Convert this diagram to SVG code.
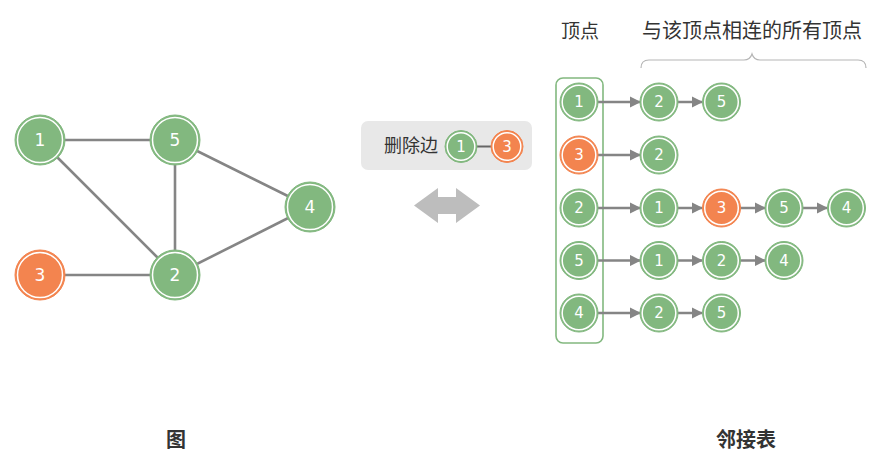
<svg xmlns="http://www.w3.org/2000/svg" width="891" height="462" viewBox="0 0 891 462">
<defs>
<style>
.bg{fill:#ffffff}
.g{fill:#82b87f;stroke:#82b87f;stroke-width:1}
.o{fill:#f3844f;stroke:#f3844f;stroke-width:1}
.ring{fill:none;stroke:#ffffff;stroke-width:1.5}
.lbl{font-family:"DejaVu Sans","Noto Sans",sans-serif;fill:#ffffff;text-anchor:middle;dominant-baseline:central}
.big{font-size:17px}
.sm{font-size:15px}
.edge{stroke:#858585;stroke-width:2.6;fill:none}
.arr{stroke:#858585;stroke-width:2.5;fill:none;marker-end:url(#ah)}
.cn{font-family:"Noto Sans CJK SC","Noto Sans",sans-serif;fill:#333333;text-anchor:middle}
</style>
<marker id="ah" viewBox="0 0 10 10" refX="9" refY="5" markerWidth="4.6" markerHeight="4.6" orient="auto" markerUnits="strokeWidth">
<path d="M0,0 L10,5 L0,10 Z" fill="#858585"/>
</marker>
</defs>
<rect class="bg" x="0" y="0" width="891" height="462"/>

<g id="graph-edges">
<line class="edge" x1="40" y1="140" x2="175" y2="140"/>
<line class="edge" x1="40" y1="140" x2="175" y2="275"/>
<line class="edge" x1="175" y1="140" x2="175" y2="275"/>
<line class="edge" x1="175" y1="140" x2="310" y2="207"/>
<line class="edge" x1="310" y1="207" x2="175" y2="275"/>
<line class="edge" x1="40" y1="275" x2="175" y2="275"/>
</g>

<g id="g1"><circle class="g" cx="40" cy="140" r="25"/><circle class="ring" cx="40" cy="140" r="22.5"/><text class="lbl big" x="40" y="140">1</text></g>
<g id="g5"><circle class="g" cx="175" cy="140" r="25"/><circle class="ring" cx="175" cy="140" r="22.5"/><text class="lbl big" x="175" y="140">5</text></g>
<g id="g4"><circle class="g" cx="310" cy="207" r="25"/><circle class="ring" cx="310" cy="207" r="22.5"/><text class="lbl big" x="310" y="207">4</text></g>
<g id="g3"><circle class="o" cx="40" cy="275" r="25"/><circle class="ring" cx="40" cy="275" r="22.5"/><text class="lbl big" x="40" y="275">3</text></g>
<g id="g2"><circle class="g" cx="175" cy="275" r="25"/><circle class="ring" cx="175" cy="275" r="22.5"/><text class="lbl big" x="175" y="275">2</text></g>

<g id="op">
<rect x="361" y="121" width="171" height="49" rx="7" fill="#e8e8e8"/>
<text class="cn" x="411" y="152" font-size="18">删除边</text>
<line x1="461" y1="146.5" x2="507" y2="146.5" stroke="#666666" stroke-width="2"/>
<circle class="g" cx="461" cy="146.5" r="16"/><circle class="ring" cx="461" cy="146.5" r="13.8"/><text class="lbl sm" x="461" y="146.5">1</text>
<circle class="o" cx="507" cy="146.5" r="16"/><circle class="ring" cx="507" cy="146.5" r="13.8"/><text class="lbl sm" x="507" y="146.5">3</text>
</g>

<g id="swap">
<path d="M414,205.5 L438,188 L438,197 L456,197 L456,188 L480,205.5 L456,223 L456,214 L438,214 L438,223 Z" fill="#bdbdbd"/>
</g>

<g id="headers">
<text class="cn" x="580" y="38" font-size="19">顶点</text>
<text class="cn" x="752" y="38" font-size="20">与该顶点相连的所有顶点</text>
<path d="M641,68 Q641,60 649,60 L744,60 Q750,60 752,54 Q754,60 760,60 L858,60 Q866,60 866,68" fill="none" stroke="#b5b5b5" stroke-width="1.2"/>
</g>

<g id="vbox"><rect x="556" y="78" width="47" height="265" rx="7" fill="none" stroke="#82b87f" stroke-width="1.6"/></g>

<g id="connectors">
<line class="arr" x1="598" y1="102" x2="640" y2="102"/>
<line class="arr" x1="678" y1="102" x2="702" y2="102"/>
<line class="arr" x1="598" y1="155" x2="640" y2="155"/>
<line class="arr" x1="598" y1="208" x2="640" y2="208"/>
<line class="arr" x1="678" y1="208" x2="702" y2="208"/>
<line class="arr" x1="740" y1="208" x2="765" y2="208"/>
<line class="arr" x1="803" y1="208" x2="827" y2="208"/>
<line class="arr" x1="598" y1="260.5" x2="640" y2="260.5"/>
<line class="arr" x1="678" y1="260.5" x2="702" y2="260.5"/>
<line class="arr" x1="740" y1="260.5" x2="765" y2="260.5"/>
<line class="arr" x1="598" y1="313" x2="640" y2="313"/>
<line class="arr" x1="678" y1="313" x2="702" y2="313"/>
</g>

<g id="v1"><circle class="g" cx="579" cy="102" r="19"/><circle class="ring" cx="579" cy="102" r="16.8"/><text class="lbl sm" x="579" y="102">1</text></g>
<g id="v3"><circle class="o" cx="579" cy="155" r="19"/><circle class="ring" cx="579" cy="155" r="16.8"/><text class="lbl sm" x="579" y="155">3</text></g>
<g id="v2"><circle class="g" cx="579" cy="208" r="19"/><circle class="ring" cx="579" cy="208" r="16.8"/><text class="lbl sm" x="579" y="208">2</text></g>
<g id="v5"><circle class="g" cx="579" cy="260.5" r="19"/><circle class="ring" cx="579" cy="260.5" r="16.8"/><text class="lbl sm" x="579" y="260.5">5</text></g>
<g id="v4"><circle class="g" cx="579" cy="313" r="19"/><circle class="ring" cx="579" cy="313" r="16.8"/><text class="lbl sm" x="579" y="313">4</text></g>

<g id="l1a"><circle class="g" cx="659" cy="102" r="19"/><circle class="ring" cx="659" cy="102" r="16.8"/><text class="lbl sm" x="659" y="102">2</text></g>
<g id="l1b"><circle class="g" cx="721.5" cy="102" r="19"/><circle class="ring" cx="721.5" cy="102" r="16.8"/><text class="lbl sm" x="721.5" y="102">5</text></g>

<g id="l3a"><circle class="g" cx="659" cy="155" r="19"/><circle class="ring" cx="659" cy="155" r="16.8"/><text class="lbl sm" x="659" y="155">2</text></g>

<g id="l2a"><circle class="g" cx="659" cy="208" r="19"/><circle class="ring" cx="659" cy="208" r="16.8"/><text class="lbl sm" x="659" y="208">1</text></g>
<g id="l2b"><circle class="o" cx="721.5" cy="208" r="19"/><circle class="ring" cx="721.5" cy="208" r="16.8"/><text class="lbl sm" x="721.5" y="208">3</text></g>
<g id="l2c"><circle class="g" cx="784" cy="208" r="19"/><circle class="ring" cx="784" cy="208" r="16.8"/><text class="lbl sm" x="784" y="208">5</text></g>
<g id="l2d"><circle class="g" cx="846.5" cy="208" r="19"/><circle class="ring" cx="846.5" cy="208" r="16.8"/><text class="lbl sm" x="846.5" y="208">4</text></g>

<g id="l5a"><circle class="g" cx="659" cy="260.5" r="19"/><circle class="ring" cx="659" cy="260.5" r="16.8"/><text class="lbl sm" x="659" y="260.5">1</text></g>
<g id="l5b"><circle class="g" cx="721.5" cy="260.5" r="19"/><circle class="ring" cx="721.5" cy="260.5" r="16.8"/><text class="lbl sm" x="721.5" y="260.5">2</text></g>
<g id="l5c"><circle class="g" cx="784" cy="260.5" r="19"/><circle class="ring" cx="784" cy="260.5" r="16.8"/><text class="lbl sm" x="784" y="260.5">4</text></g>

<g id="l4a"><circle class="g" cx="659" cy="313" r="19"/><circle class="ring" cx="659" cy="313" r="16.8"/><text class="lbl sm" x="659" y="313">2</text></g>
<g id="l4b"><circle class="g" cx="721.5" cy="313" r="19"/><circle class="ring" cx="721.5" cy="313" r="16.8"/><text class="lbl sm" x="721.5" y="313">5</text></g>

<g id="captions">
<text class="cn" x="176" y="447" font-size="20" font-weight="bold">图</text>
<text class="cn" x="746" y="447" font-size="20" font-weight="bold">邻接表</text>
</g>
</svg>
